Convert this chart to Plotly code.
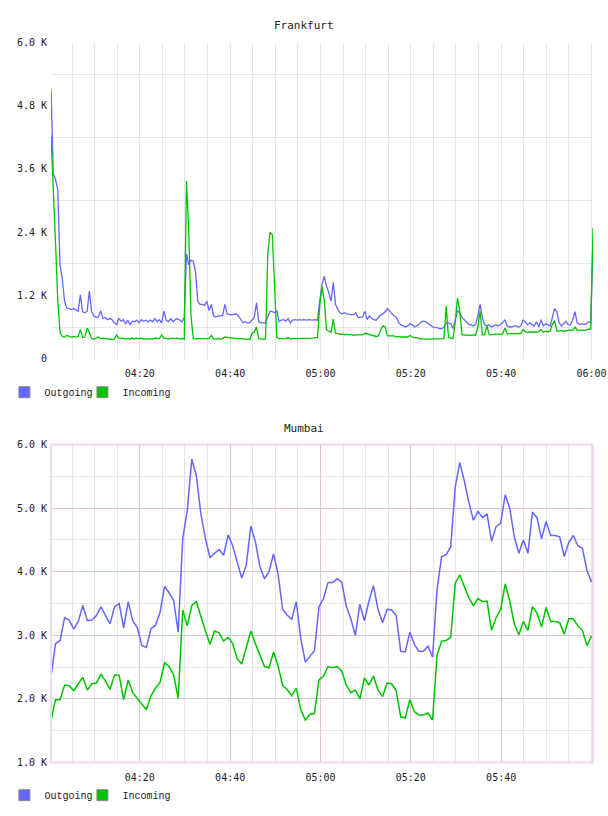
import pandas as pd
import plotly.graph_objects as go

# ---------------- data (values in thousands) ----------------
fra_out = [
    5.12, 3.52, 3.40, 3.21, 1.78, 1.52, 1.09, 0.96, 0.95, 0.93,
    0.95, 0.93, 0.90, 1.21, 0.89, 0.87, 0.90, 1.28, 0.89, 0.81,
    0.78, 0.79, 0.91, 0.76, 0.78, 0.74, 0.76, 0.74, 0.68, 0.65,
    0.76, 0.71, 0.74, 0.66, 0.73, 0.64, 0.71, 0.70, 0.73, 0.68,
    0.74, 0.71, 0.73, 0.70, 0.73, 0.70, 0.76, 0.70, 0.74, 0.68,
    0.90, 0.73, 0.70, 0.76, 0.70, 0.74, 0.76, 0.73, 0.70, 0.78,
    1.99, 1.78, 1.87, 1.85, 1.65, 1.09, 1.03, 1.03, 1.01, 1.09,
    0.91, 1.03, 0.81, 0.79, 0.81, 0.81, 0.82, 1.03, 0.85, 0.84,
    0.83, 0.84, 0.85, 0.81, 0.74, 0.68, 0.70, 0.68, 0.68, 0.74,
    0.78, 1.06, 0.70, 0.68, 0.68, 0.68, 0.79, 0.90, 0.89, 0.87,
    0.91, 0.70, 0.73, 0.74, 0.71, 0.76, 0.68, 0.73, 0.74, 0.73,
    0.74, 0.73, 0.74, 0.73, 0.74, 0.73, 0.73, 0.74, 0.73, 1.10,
    1.40, 1.56, 1.37, 1.26, 1.09, 1.45, 1.03, 0.93, 0.87, 0.85,
    0.87, 0.85, 0.84, 0.83, 0.84, 0.87, 0.78, 0.79, 0.79, 0.90,
    0.74, 0.81, 0.76, 0.74, 0.73, 0.78, 0.83, 0.85, 0.89, 0.95,
    0.89, 0.85, 0.81, 0.78, 0.68, 0.64, 0.62, 0.60, 0.62, 0.66,
    0.64, 0.60, 0.62, 0.65, 0.70, 0.71, 0.70, 0.66, 0.64, 0.60,
    0.59, 0.59, 0.57, 0.57, 0.59, 0.68, 0.68, 0.66, 0.57, 0.74,
    0.91, 0.87, 0.78, 0.74, 0.70, 0.65, 0.64, 0.62, 0.65, 0.81,
    1.03, 0.78, 0.64, 0.62, 0.64, 0.60, 0.62, 0.64, 0.62, 0.65,
    0.68, 0.74, 0.62, 0.60, 0.60, 0.62, 0.62, 0.60, 0.62, 0.73,
    0.70, 0.64, 0.68, 0.65, 0.62, 0.70, 0.60, 0.74, 0.62, 0.66,
    0.64, 0.62, 0.78, 0.95, 0.89, 0.68, 0.62, 0.66, 0.71, 0.64,
    0.64, 0.73, 0.89, 0.68, 0.65, 0.66, 0.65, 0.66, 0.70, 0.68,
    2.24,
]
fra_in = [
    4.24, 3.30, 2.20, 1.10, 0.50, 0.42, 0.41, 0.44, 0.42, 0.41,
    0.42, 0.41, 0.42, 0.55, 0.40, 0.41, 0.58, 0.50, 0.38, 0.37,
    0.39, 0.41, 0.38, 0.39, 0.38, 0.37, 0.38, 0.36, 0.37, 0.45,
    0.39, 0.38, 0.39, 0.37, 0.38, 0.37, 0.39, 0.37, 0.39, 0.38,
    0.39, 0.37, 0.38, 0.37, 0.38, 0.37, 0.39, 0.38, 0.38, 0.45,
    0.38, 0.39, 0.37, 0.38, 0.39, 0.38, 0.39, 0.37, 0.38, 0.37,
    3.37, 2.40, 0.80, 0.38, 0.37, 0.38, 0.38, 0.38, 0.37, 0.38,
    0.38, 0.44, 0.37, 0.37, 0.38, 0.37, 0.38, 0.41, 0.40, 0.40,
    0.39, 0.39, 0.38, 0.38, 0.38, 0.37, 0.37, 0.37, 0.36, 0.48,
    0.50, 0.60, 0.38, 0.37, 0.37, 0.37, 2.00, 2.40, 2.35, 1.20,
    0.40, 0.38, 0.38, 0.37, 0.38, 0.40, 0.37, 0.38, 0.38, 0.39,
    0.38, 0.39, 0.38, 0.38, 0.39, 0.38, 0.39, 0.40, 0.40, 1.00,
    1.37, 1.10, 0.55, 0.52, 0.50, 0.75, 0.48, 0.48, 0.46, 0.47,
    0.45, 0.46, 0.45, 0.46, 0.44, 0.45, 0.45, 0.44, 0.45, 0.48,
    0.47, 0.46, 0.44, 0.44, 0.42, 0.43, 0.55, 0.62, 0.60, 0.43,
    0.43, 0.42, 0.43, 0.41, 0.42, 0.41, 0.41, 0.40, 0.41, 0.44,
    0.41, 0.40, 0.40, 0.38, 0.37, 0.37, 0.37, 0.37, 0.37, 0.37,
    0.38, 0.37, 0.37, 0.37, 0.38, 1.00, 0.40, 0.39, 0.38, 0.70,
    1.15, 0.90, 0.45, 0.45, 0.44, 0.45, 0.44, 0.45, 0.44, 0.60,
    0.90, 0.45, 0.45, 0.62, 0.46, 0.45, 0.46, 0.47, 0.46, 0.47,
    0.47, 0.58, 0.47, 0.47, 0.48, 0.47, 0.48, 0.47, 0.48, 0.55,
    0.51, 0.50, 0.51, 0.50, 0.51, 0.50, 0.51, 0.55, 0.50, 0.52,
    0.51, 0.52, 0.65, 0.72, 0.52, 0.52, 0.53, 0.52, 0.53, 0.53,
    0.54, 0.54, 0.60, 0.54, 0.54, 0.55, 0.55, 0.54, 0.56, 0.56,
    2.48,
]
mum_out = [
    2.35, 2.87, 2.92, 3.28, 3.24, 3.10, 3.22, 3.47, 3.23, 3.24,
    3.31, 3.45, 3.31, 3.18, 3.45, 3.50, 3.12, 3.53, 3.23, 3.12,
    2.84, 2.81, 3.10, 3.16, 3.36, 3.77, 3.67, 3.55, 3.05, 4.52,
    4.96, 5.77, 5.51, 4.91, 4.52, 4.22, 4.29, 4.35, 4.26, 4.58,
    4.41, 4.16, 3.90, 4.11, 4.72, 4.47, 4.08, 3.89, 4.00, 4.28,
    3.96, 3.41, 3.32, 3.25, 3.53, 2.95, 2.58, 2.67, 2.76, 3.45,
    3.58, 3.83, 3.83, 3.89, 3.84, 3.46, 3.26, 3.00, 3.49, 3.23,
    3.54, 3.78, 3.41, 3.20, 3.41, 3.40, 3.31, 2.75, 2.74, 3.05,
    2.86, 2.75, 2.75, 2.83, 2.66, 3.72, 4.24, 4.27, 4.39, 5.33,
    5.72, 5.43, 5.09, 4.81, 4.95, 4.85, 4.91, 4.48, 4.71, 4.76,
    5.21, 5.00, 4.55, 4.29, 4.50, 4.29, 4.94, 4.85, 4.52, 4.79,
    4.57, 4.57, 4.55, 4.24, 4.46, 4.57, 4.41, 4.37, 4.02, 3.84,
]
mum_in = [
    1.66, 1.99, 1.99, 2.22, 2.21, 2.13, 2.24, 2.34, 2.14, 2.24,
    2.25, 2.39, 2.28, 2.15, 2.38, 2.37, 1.99, 2.30, 2.10, 2.01,
    1.91, 1.83, 2.05, 2.17, 2.26, 2.57, 2.51, 2.38, 2.01, 3.40,
    3.15, 3.47, 3.53, 3.28, 3.07, 2.86, 3.07, 3.04, 2.91, 2.97,
    2.87, 2.63, 2.55, 2.81, 3.07, 2.87, 2.70, 2.51, 2.49, 2.74,
    2.52, 2.21, 2.15, 2.05, 2.17, 1.83, 1.67, 1.76, 1.77, 2.30,
    2.36, 2.51, 2.49, 2.51, 2.44, 2.22, 2.10, 2.14, 2.00, 2.33,
    2.22, 2.36, 2.14, 2.04, 2.25, 2.24, 2.13, 1.72, 1.70, 1.99,
    1.80, 1.75, 1.75, 1.78, 1.67, 2.69, 2.91, 2.92, 2.97, 3.82,
    3.95, 3.77, 3.59, 3.47, 3.58, 3.53, 3.54, 3.08, 3.28, 3.41,
    3.81, 3.54, 3.18, 3.01, 3.22, 3.08, 3.45, 3.35, 3.13, 3.44,
    3.22, 3.22, 3.20, 3.02, 3.26, 3.26, 3.15, 3.08, 2.84, 2.99,
]

day = "2024-01-01 "
fra_t = pd.date_range(day + "04:00:20", periods=len(fra_out), freq="30s")
mum_t = pd.date_range(day + "04:00:20", day + "06:00:00", periods=len(mum_out))

fra_xticks = [day + t for t in ["04:20", "04:40", "05:00", "05:20", "05:40", "06:00"]]
mum_xticks = [day + t for t in ["04:20", "04:40", "05:00", "05:20", "05:40"]]
fra_yticks = [0, 1.2, 2.4, 3.6, 4.8, 6.0]
fra_ytext = ["0", "1.2 K", "2.4 K", "3.6 K", "4.8 K", "6.0 K"]
fra_ygrid = [0.6, 1.8, 3.0, 4.2, 5.4]
mum_yticks = [1, 2, 3, 4, 5, 6]
mum_ytext = ["1.0 K", "2.0 K", "3.0 K", "4.0 K", "5.0 K", "6.0 K"]
x_range = [day + "04:00:20", day + "06:00:20"]

BLUE = "#6666ff"
GREEN = "#00c400"
GRID = "#e6e6e6"
PINK = "#dcc3dc"
TICKFONT = dict(family="DejaVu Sans Mono", size=10, color="#222222")

fig = go.Figure()
for t, y, col, xa, ya, w in [
    (fra_t, fra_out, BLUE, "x", "y", 1.3),
    (fra_t, fra_in, GREEN, "x", "y", 1.3),
    (mum_t, mum_out, BLUE, "x2", "y2", 1.5),
    (mum_t, mum_in, GREEN, "x2", "y2", 1.5),
]:
    fig.add_trace(go.Scatter(x=t, y=y, mode="lines", line=dict(color=col, width=w),
                             xaxis=xa, yaxis=ya, showlegend=False, hoverinfo="skip"))

# legend swatches (square boxes like the original), one legend box per entry
for name, col, lg, xa, ya in [
    ("Outgoing", BLUE, "legend", "x", "y"),
    ("Incoming", GREEN, "legend3", "x", "y"),
    ("Outgoing", BLUE, "legend2", "x2", "y2"),
    ("Incoming", GREEN, "legend4", "x2", "y2"),
]:
    fig.add_trace(go.Scatter(x=[None], y=[None], mode="markers", name=name,
                             marker=dict(symbol="square", size=11, color=col,
                                         line=dict(color="#8a8a8a", width=1)),
                             xaxis=xa, yaxis=ya, legend=lg))

H = 816
def py(px):
    return 1 - px / H

common_x = dict(type="date", range=x_range, tickformat="%H:%M", tickfont=TICKFONT,
                ticks="", showline=False, zeroline=False, ticklabelstandoff=7)
common_y = dict(tickfont=TICKFONT, zeroline=False, ticks="", ticklabelstandoff=3)
legend_common = dict(orientation="h", xanchor="left", yanchor="middle",
                     font=dict(family="Liberation Mono", size=10, color="#222222"),
                     bgcolor="rgba(0,0,0,0)", itemclick=False, itemdoubleclick=False)
title_font = dict(family="DejaVu Sans Mono", size=11, color="#222222")
LEG_X1 = -0.086
LEG_X2 = 0.058
TITLE_X = (304 - 51) / 542

fig.update_layout(
    width=608, height=H,
    margin=dict(l=51, r=15, t=0, b=0),
    paper_bgcolor="white", plot_bgcolor="white",
    xaxis=dict(**common_x, anchor="y", domain=[0, 1], tickvals=fra_xticks,
               showgrid=True, gridcolor=GRID, gridwidth=1,
               minor=dict(dtick=300000, showgrid=True, gridcolor=GRID, gridwidth=1)),
    yaxis=dict(**common_y, anchor="x", domain=[py(358), py(38)], range=[0, 6.0],
               tickvals=fra_yticks, ticktext=fra_ytext, showgrid=False, showline=False,
               minor=dict(tickvals=fra_ygrid, showgrid=True, gridcolor=GRID, gridwidth=1)),
    xaxis2=dict(**common_x, anchor="y2", domain=[0, 1], tickvals=mum_xticks,
                showgrid=True, gridcolor=PINK, gridwidth=1,
                minor=dict(dtick=300000, showgrid=True, gridcolor=GRID, gridwidth=1)),
    yaxis2=dict(**common_y, anchor="x2", domain=[py(767), py(445)], range=[1.0, 6.0],
                tickvals=mum_yticks, ticktext=mum_ytext,
                showgrid=True, gridcolor=PINK, gridwidth=1,
                minor=dict(dtick=0.5, showgrid=True, gridcolor=GRID, gridwidth=1)),
    legend=dict(**legend_common, x=LEG_X1, y=py(392)),
    legend3=dict(**legend_common, x=LEG_X2, y=py(392)),
    legend2=dict(**legend_common, x=LEG_X1, y=py(800)),
    legend4=dict(**legend_common, x=LEG_X2, y=py(800)),
    annotations=[
        dict(text="Frankfurt", x=TITLE_X, xref="paper", y=py(21), yref="paper",
             xanchor="center", yanchor="middle", showarrow=False, font=title_font),
        dict(text="Mumbai", x=TITLE_X, xref="paper", y=py(429), yref="paper",
             xanchor="center", yanchor="middle", showarrow=False, font=title_font),
    ],
    shapes=[
        dict(type="rect", xref="x2 domain", yref="y2 domain", x0=0, x1=1, y0=0, y1=1,
             line=dict(color="#ecdcec", width=2), fillcolor="rgba(0,0,0,0)", layer="above"),
    ],
)

fig.write_html("out.html")
